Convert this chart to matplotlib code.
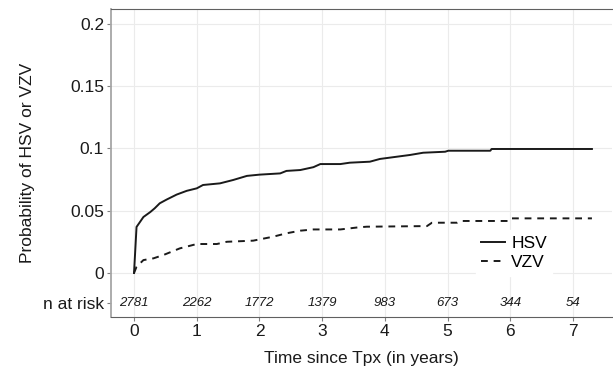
import matplotlib
matplotlib.use("Agg")
import matplotlib.pyplot as plt

plt.rcParams['font.family'] = ['Liberation Sans', 'DejaVu Sans']

# HSV cumulative incidence (time in years, probability)
hsv_t = [0, 0.04, 0.15, 0.26, 0.33, 0.41, 0.52, 0.68, 0.84, 1.0, 1.1, 1.37, 1.58, 1.8, 2.0,
         2.33, 2.43, 2.65, 2.86, 2.97, 3.29, 3.44, 3.76, 3.92, 4.19, 4.40, 4.61, 4.96, 5.01,
         5.68, 5.70, 7.30]
hsv_p = [0, 0.037, 0.045, 0.049, 0.052, 0.056, 0.059, 0.063, 0.066, 0.068, 0.0707, 0.072,
         0.0747, 0.078, 0.079, 0.080, 0.082, 0.0827, 0.085, 0.0875, 0.0875, 0.0886, 0.0894,
         0.0916, 0.0934, 0.0948, 0.0966, 0.0974, 0.0982, 0.0982, 0.0996, 0.0996]

# VZV cumulative incidence
vzv_t = [0, 0.04, 0.15, 0.31, 0.47, 0.73, 1.0, 1.32, 1.48, 1.90, 2.22, 2.43, 2.65, 2.86,
         3.29, 3.58, 3.71, 4.67, 4.75, 5.15, 5.20, 5.97, 6.0, 7.30]
vzv_p = [0, 0.005, 0.0104, 0.0118, 0.0145, 0.0198, 0.0233, 0.0233, 0.0251, 0.026, 0.0292,
         0.0319, 0.034, 0.035, 0.035, 0.0367, 0.0372, 0.0377, 0.0404, 0.0404, 0.0418, 0.0418,
         0.0439, 0.0439]

risk_times = [0, 1, 2, 3, 4, 5, 6, 7]
n_at_risk = [2781, 2262, 1772, 1379, 983, 673, 344, 54]

y_ticks = [0, 0.05, 0.1, 0.15, 0.2]
y_tick_labels = ['0', '0.05', '0.1', '0.15', '0.2']
risk_row_y = -0.024

fig = plt.figure(figsize=(6.13, 3.72), dpi=100)
ax = fig.add_axes([111/613, 55/372, 501/613, 308/372])

ax.plot(hsv_t, hsv_p, color='#1a1a1a', lw=1.4, label='HSV')
ax.plot(vzv_t, vzv_p, color='#1a1a1a', lw=1.4, dashes=(3.5, 3), label='VZV')

ax.set_xlim(-0.367, 7.62)
ax.set_ylim(-0.0353, 0.212)
ax.set_xticks(risk_times)
ax.set_yticks([risk_row_y] + y_ticks)
ax.set_yticklabels(['n at risk'] + y_tick_labels)

for t, n in zip(risk_times, n_at_risk):
    ax.text(t, risk_row_y, str(n), ha='center', va='center', fontsize=9.5,
            style='italic', color='#1a1a1a')

ax.grid(True, color='#ebebeb', lw=0.8, zorder=0)
ax.set_axisbelow(True)
ax.get_ygridlines()[0].set_visible(False)

ax.spines['right'].set_visible(False)
ax.spines['top'].set_color('#606060')
ax.spines['bottom'].set_color('#606060')
ax.spines['left'].set_color('#a6a6a6')
ax.spines['left'].set_linewidth(1.3)
ax.tick_params(axis='both', colors='#808080', labelcolor='#1a1a1a',
               labelsize=12.5, length=3, width=0.8, pad=2)

ax.set_xlabel('Time since Tpx (in years)', fontsize=12.5, color='#1a1a1a', labelpad=9)
ax.set_ylabel('Probability of HSV or VZV', fontsize=12.5, color='#1a1a1a', labelpad=6)

leg = ax.legend(loc='center', fontsize=12.5,
                frameon=True, fancybox=False, handlelength=1.4, handletextpad=0.35,
                labelspacing=0.25, borderpad=0.3)
leg.set_bbox_to_anchor(((514 - 111) / 501, (317 - 253) / 308), transform=ax.transAxes)
leg.get_frame().set_edgecolor('white')
leg.get_frame().set_facecolor('white')
leg.get_frame().set_alpha(1)

fig.savefig('out.png', dpi=100)
